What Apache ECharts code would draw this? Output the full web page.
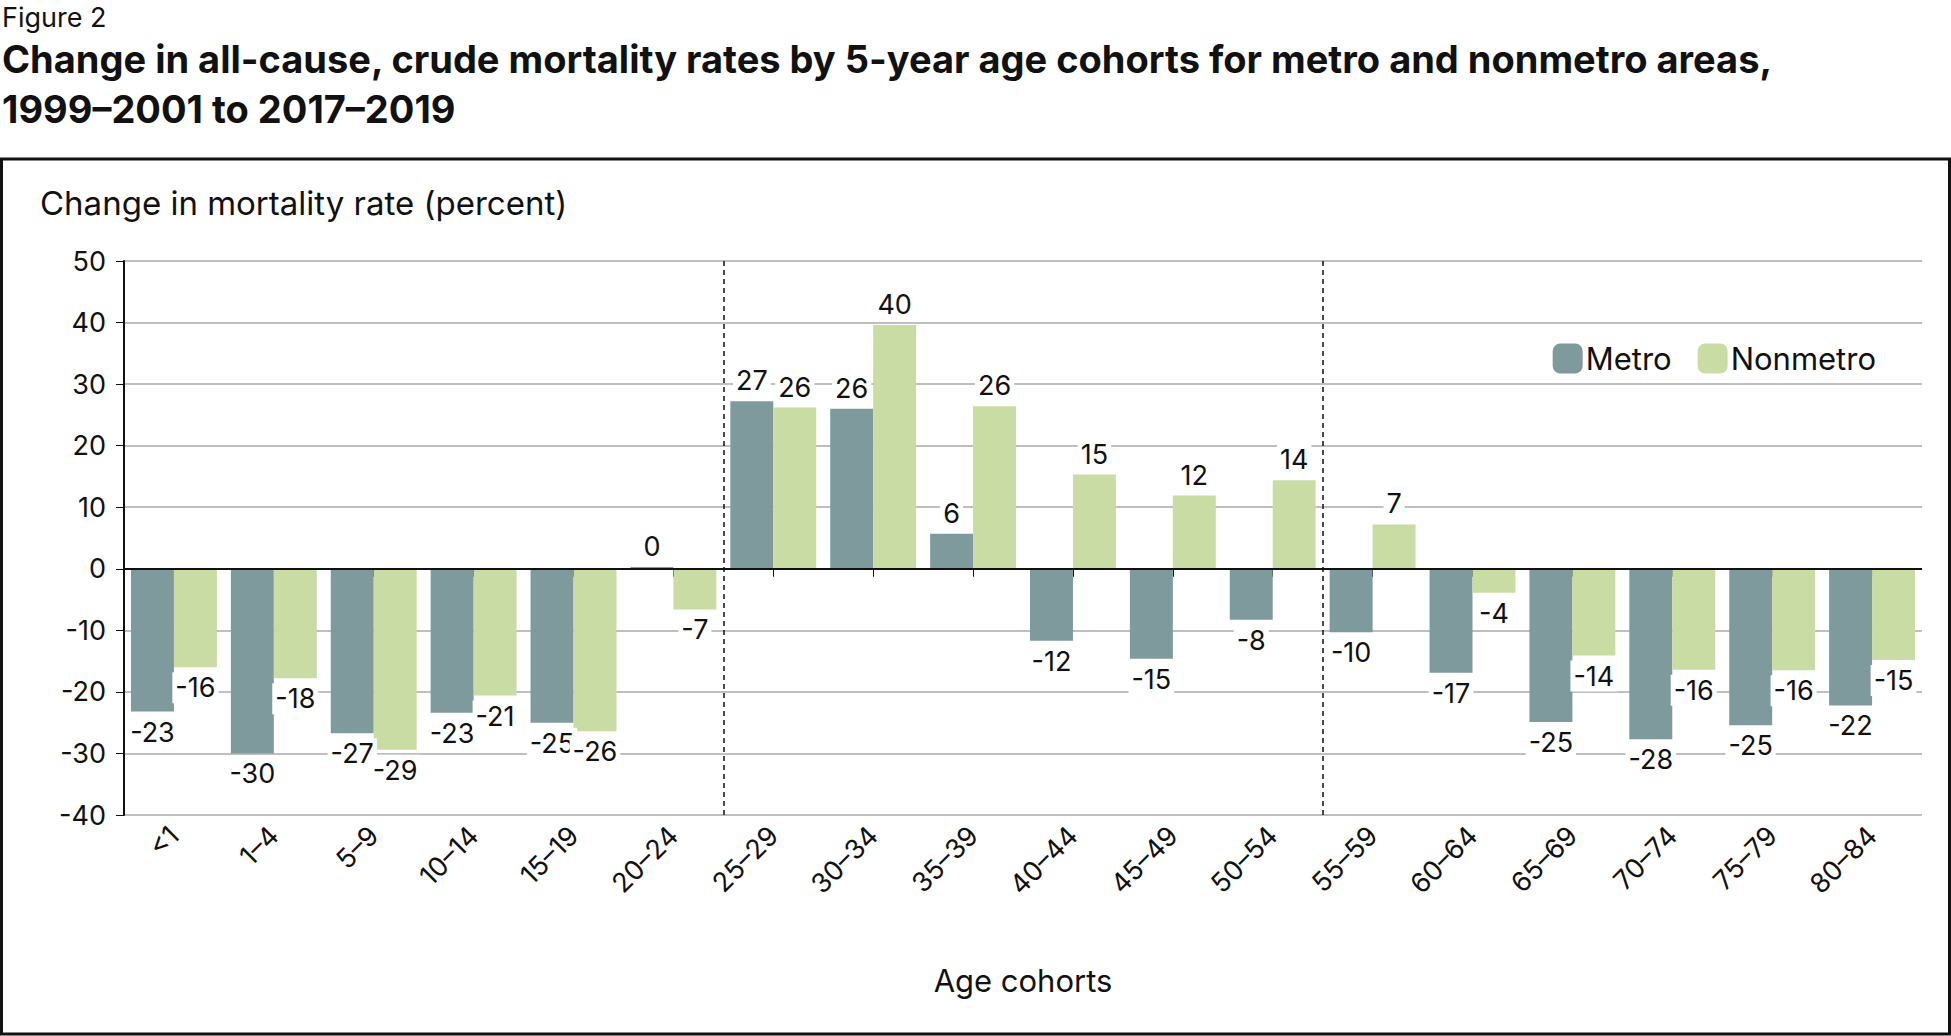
<!DOCTYPE html>
<html><head><meta charset="utf-8">
<script src="https://cdn.jsdelivr.net/npm/echarts@6/dist/echarts.min.js"></script>
<style>html,body{margin:0;background:#fff}#c{width:1951px;height:1036px}</style>
</head><body><div id="c"></div>
<script>
const cohorts = ['<1','1–4','5–9','10–14','15–19','20–24','25–29','30–34','35–39','40–44','45–49','50–54','55–59','60–64','65–69','70–74','75–79','80–84']
const metro = [-23.2,-30,-26.7,-23.4,-25,0.3,27.2,26,5.7,-11.7,-14.6,-8.3,-10.3,-16.9,-24.9,-27.7,-25.4,-22.2]
const nonmetro = [-16,-17.8,-29.4,-20.6,-26.4,-6.6,26.2,39.6,26.4,15.3,11.9,14.4,7.2,-3.9,-14.1,-16.4,-16.5,-14.8]
const yTicks = { min: -40, max: 50, step: 10 }

const font = 'Inter, "Liberation Sans", sans-serif'
const chart = echarts.init(document.getElementById('c'), null, { renderer: 'svg' })

const label = {
  show: true,
  fontFamily: font,
  fontSize: 27,
  color: '#111',
  backgroundColor: '#fff',
  padding: [2, 3],
  formatter: (p) => Math.round(p.value).toString(),
}
const labelPos = (vals) => vals.map((v) => ({ value: v, label: { position: v >= 0 ? 'top' : 'bottom' } }))

chart.setOption({
  animation: false,
  textStyle: { fontFamily: font },
  graphic: [
    { type: 'text', left: 2, top: 4, style: { text: 'Figure 2', font: '27px ' + font, fill: '#111' } },
    { type: 'text', left: 2, top: 34, style: { text: 'Change in all-cause, crude mortality rates by 5-year age cohorts for metro and nonmetro areas,\n1999–2001 to 2017–2019', font: 'bold 38px ' + font, fill: '#111', lineHeight: 50 } },
    { type: 'rect', shape: { x: 1.5, y: 159, width: 1948, height: 875 }, style: { fill: 'none', stroke: '#111', lineWidth: 3 } },
    { type: 'text', left: 40, top: 186, style: { text: 'Change in mortality rate (percent)', font: '33px ' + font, fill: '#111' } },
  ],
  legend: {
    right: 70, top: 338, itemWidth: 30, itemHeight: 30, itemGap: 26,
    textStyle: { fontSize: 31, fontFamily: font, color: '#111', padding: [0, 0, 0, -2] },
    data: ['Metro', 'Nonmetro'],
  },
  grid: { left: 124, right: 29, top: 261, bottom: 221 },
  xAxis: [
    {
      type: 'category', data: cohorts,
      name: 'Age cohorts', nameLocation: 'middle', nameGap: 150,
      nameTextStyle: { fontSize: 31, color: '#111' },
      axisLine: { show: false },
      axisTick: { show: true, alignWithLabel: true, length: 8, lineStyle: { color: '#111' } },
      axisLabel: { rotate: 45, fontSize: 27, color: '#111', margin: 16 },
    },
    { type: 'value', min: 0, max: 18, show: false },
  ],
  yAxis: {
    type: 'value', min: yTicks.min, max: yTicks.max, interval: yTicks.step,
    axisLine: { show: true, lineStyle: { color: '#111', width: 2 } },
    axisTick: { show: true, length: 8, lineStyle: { color: '#111' } },
    axisLabel: { fontSize: 27, color: '#111', margin: 18 },
    splitLine: { lineStyle: { color: '#aaa', width: 1.5 } },
  },
  series: [
    {
      name: 'Metro', type: 'bar', data: labelPos(metro), barGap: '0%', barCategoryGap: '14%',
      itemStyle: { color: '#7f9a9c' }, label,
      markLine: {
        silent: true, symbol: 'none', label: { show: false },
        lineStyle: { color: '#111', type: 'solid', width: 2 },
        data: [{ yAxis: 0 }],
      },
    },
    { name: 'Nonmetro', type: 'bar', data: labelPos(nonmetro), itemStyle: { color: '#c8dca4' }, label },
    {
      type: 'line', xAxisIndex: 1, data: [],
      markLine: {
        silent: true, symbol: 'none', label: { show: false },
        lineStyle: { color: '#111', type: [5, 4], width: 1.5 },
        data: [{ xAxis: 6 }, { xAxis: 12 }],
      },
    },
  ],
})
</script></body></html>
